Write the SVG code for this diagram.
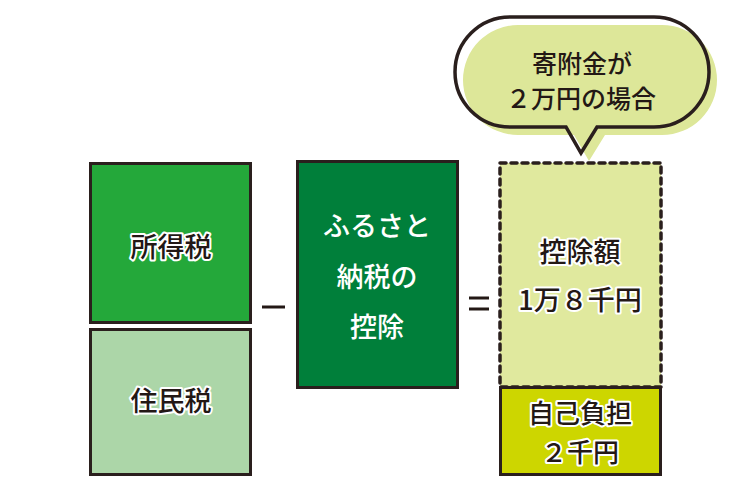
<svg xmlns="http://www.w3.org/2000/svg" width="750" height="500" viewBox="0 0 750 500">
<style>
.box{stroke:#2a1f1d;stroke-width:3}
.t{font-family:"Noto Sans CJK JP","Noto Sans",sans-serif;font-size:27px;font-weight:500;text-anchor:middle;dominant-baseline:central}
.d{fill:#231815;stroke:#fff;stroke-width:4;paint-order:stroke;stroke-linejoin:round}
.w{fill:#fff}
.op{stroke:#231815;stroke-width:3}
</style>
<rect width="750" height="500" fill="#fff"/>
<g id="bubble">
<path d="M510,17 H654 A55,55 0 0 1 654,127 H597 L581,153 L566,127 H510 A55,55 0 0 1 510,17 Z" transform="translate(8,8)" fill="#dde799" stroke="none"/>
<path d="M510,17 H654 A55,55 0 0 1 654,127 H597 L581,153 L566,127 H510 A55,55 0 0 1 510,17 Z" fill="none" stroke="#2a1f1d" stroke-width="3.500" stroke-linejoin="miter"/>
<text class="t" x="582" y="62" fill="#231815" style="font-size:25px">寄附金が</text>
<text class="t" x="581" y="97" fill="#231815" style="font-size:25px">２万円の場合</text>
</g>
<g id="shotokuzei">
<rect class="box" x="90.500" y="163.500" width="160" height="159" fill="#24a83a"/>
<text class="t d" x="171" y="245">所得税</text>
</g>
<g id="juminzei">
<rect class="box" x="90.500" y="329.500" width="160" height="145" fill="#acd6a8"/>
<text class="t d" x="171" y="399">住民税</text>
</g>
<g id="furusato">
<rect class="box" x="297.500" y="161.500" width="160" height="226" fill="#007f3a"/>
<text class="t w" x="377" y="224">ふるさと</text>
<text class="t w" x="377" y="275">納税の</text>
<text class="t w" x="377" y="325">控除</text>
</g>
<g id="kojogaku">
<rect x="500" y="163" width="161" height="224" fill="#e0e99e" stroke="#2a1f1d" stroke-width="3.500" stroke-dasharray="6,5" stroke-linecap="round"/>
<text class="t d" x="580" y="250">控除額</text>
<text class="t d" x="580" y="298">1万８千円</text>
</g>
<g id="jikofutan">
<rect class="box" x="500.500" y="387.500" width="160" height="87" fill="#cdd600"/>
<text class="t d" x="580" y="411" style="font-size:26px">自己負担</text>
<text class="t d" x="580" y="450" style="font-size:26px">２千円</text>
</g>
<g id="operators">
<line class="op" x1="262" y1="307" x2="285" y2="307"/>
<line class="op" x1="469" y1="298" x2="489" y2="298"/>
<line class="op" x1="469" y1="309" x2="489" y2="309"/>
</g>
</svg>
